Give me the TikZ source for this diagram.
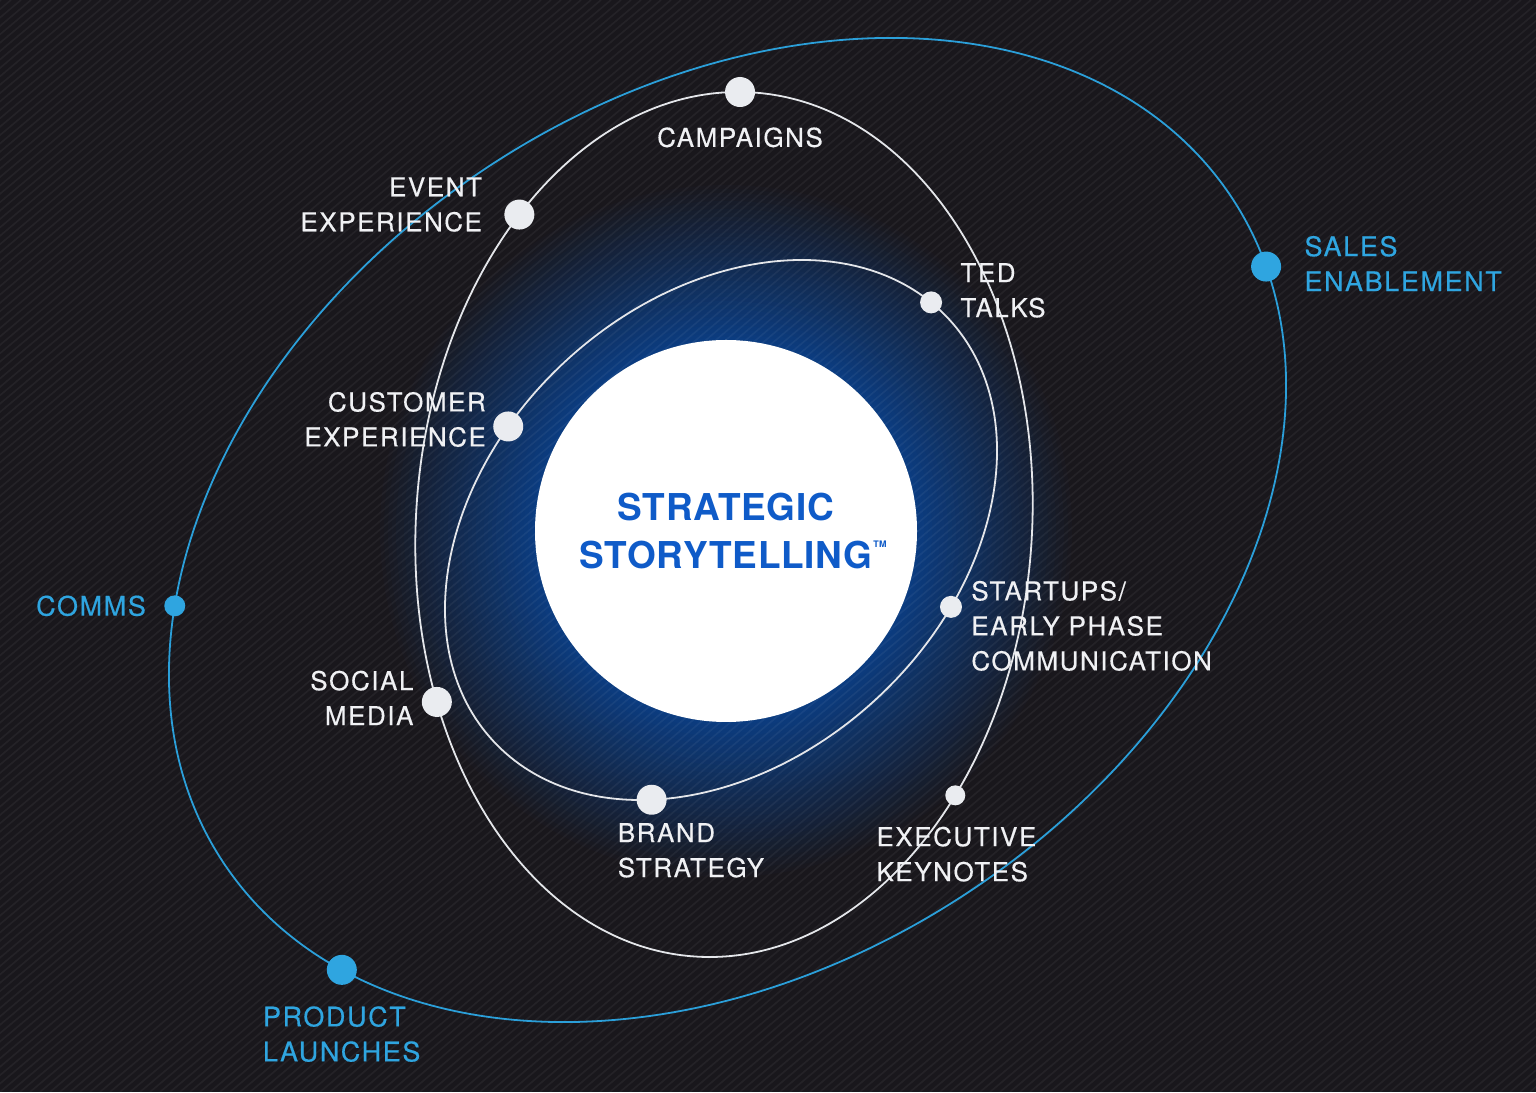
\documentclass[tikz,border=0pt]{standalone}
\usepackage{fontspec}
\setmainfont{TeX Gyre Heros}
\newfontfamily\lblfont[LetterSpace=6,FakeBold=0.4]{TeX Gyre Heros}
\newfontfamily\ttlfont[LetterSpace=2]{TeX Gyre Heros}
\usetikzlibrary{positioning}

\definecolor{bg}{HTML}{19171C}
\definecolor{glowa}{HTML}{0B3D82}
\definecolor{orbwhite}{HTML}{E4E6EA}
\definecolor{orbblue}{HTML}{2B9FD9}
\definecolor{dotwhite}{HTML}{EAECF0}
\definecolor{dotblue}{HTML}{2FA5E0}
\definecolor{lblwhite}{HTML}{F0F1F4}
\definecolor{stblue}{HTML}{0F5BC8}

\begin{document}
\begin{tikzpicture}[x=1pt, y=1pt,
  orbw/.style={draw=orbwhite, line width=1.8pt},
  orbb/.style={draw=orbblue, line width=1.8pt},
  wdot/.style={circle, fill=dotwhite, inner sep=0pt, minimum size=30pt},
  bdot/.style={circle, fill=dotblue, inner sep=0pt, minimum size=30pt},
  wlbl/.style={font=\lblfont\fontsize{26}{35}\selectfont, text=lblwhite, inner sep=0pt},
  blbl/.style={font=\lblfont\fontsize{27}{35}\selectfont, text=dotblue, inner sep=0pt}]

\useasboundingbox (0,0) rectangle (1536,1092);
\fill[bg] (0,0) rectangle (1536,1092);

% blue haze round the core
\foreach \i [evaluate=\i as \r using 350-4*\i, evaluate=\i as \p using 2.5*\i] in {0,...,40}
  \fill[glowa!\p!bg] (726,561) circle (\r);

% diagonal stripes
\begin{scope}
\clip (0,0) rectangle (1536,1092);
\foreach \k in {-1310,-1300,...,1540}
  \draw[white, opacity=0.05, line width=1.6pt] (\k,0) -- ++(1301,1092);
\end{scope}

% outer orbit
\begin{scope}[shift={(727.5,562)}, rotate=33.3]
\draw[orbb] (0,0) ellipse (604 and 435);
\node[bdot] (sales) at (-10:604 and 435) {};
\node[bdot, minimum size=21pt] (comms) at (146.5:604 and 435) {};
\node[bdot] (product) at (201:604 and 435) {};
\end{scope}

% middle orbit
\begin{scope}[shift={(724,567.5)}, rotate=86.1]
\draw[orbw] (0,0) ellipse (433 and 308);
\node[wdot] (campaigns) at (2.5:433 and 308) {};
\node[wdot] (event) at (47:433 and 308) {};
\node[wdot] (social) at (117:433 and 308) {};
\node[wdot, minimum size=20pt] (keynotes) at (234:433 and 308) {};
\end{scope}

% inner orbit
\begin{scope}[shift={(721,562)}, rotate=42.85]
\draw[orbw] (0,0) ellipse (310.5 and 229.5);
\node[wdot, minimum size=22pt] (ted) at (6:310.5 and 229.5) {};
\node[wdot] (customer) at (106:310.5 and 229.5) {};
\node[wdot] (brand) at (221:310.5 and 229.5) {};
\node[wdot, minimum size=22pt] (startups) at (-68:310.5 and 229.5) {};
\end{scope}

\node[circle, fill=white, inner sep=0pt, minimum size=382pt] (core) at (726,561) {};
\node[font=\ttlfont\bfseries\fontsize{37}{47.5}\selectfont, text=stblue, align=center] (title) at (core)
  {STRATEGIC\\STORYTELLING\rlap{\kern1pt\raisebox{20.5pt}{\fontsize{9}{9}\selectfont TM}}};

\node[wlbl, below=20pt of campaigns] (campaignstxt) {CAMPAIGNS};
\node[wlbl, align=right, left=22pt of event, yshift=10pt] (eventtxt) {EVENT\\EXPERIENCE};
\node[wlbl, align=left, right=18pt of ted, yshift=12pt] (tedtxt) {TED\\TALKS};
\node[wlbl, align=right, left=7pt of customer, yshift=7pt] (customertxt) {CUSTOMER\\EXPERIENCE};
\node[wlbl, align=left, right=9pt of startups, yshift=-19pt] (startupstxt) {STARTUPS/\\EARLY PHASE\\COMMUNICATION};
\node[wlbl, align=right, left=8pt of social, yshift=4pt] (socialtxt) {SOCIAL\\MEDIA};
\node[wlbl, align=left, anchor=north west] (brandtxt) at ([shift={(-34pt,-8pt)}]brand.south) {BRAND\\STRATEGY};
\node[wlbl, align=left, anchor=north west] (keynotestxt) at ([shift={(-79pt,-21pt)}]keynotes.south) {EXECUTIVE\\KEYNOTES};

\node[blbl, align=left, right=23pt of sales, yshift=3pt] (salestxt) {SALES\\ENABLEMENT};
\node[blbl, left=18pt of comms] (commstxt) {COMMS};
\node[blbl, align=left, anchor=north west] (producttxt) at ([shift={(-79pt,-21pt)}]product.south) {PRODUCT\\LAUNCHES};
\end{tikzpicture}
\end{document}
